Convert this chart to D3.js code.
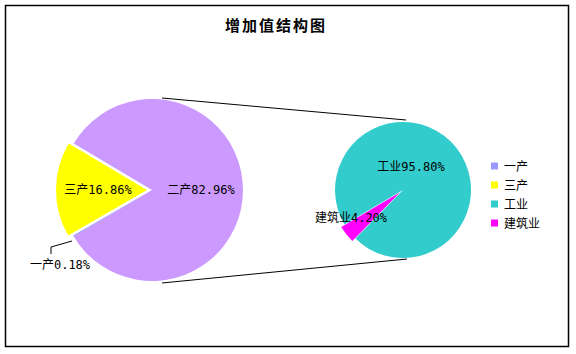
<!DOCTYPE html>
<html lang="en">
<head>
<meta charset="UTF-8">
<title>增加值结构图</title>
<script src="https://d3js.org/d3.v7.min.js"></script>
<style>
  body { margin: 0; background: #fff; }
  svg text { font-family: "Noto Sans CJK SC", "DejaVu Sans", sans-serif; }
  svg text.lbl { font-family: "DejaVu Sans Mono", "Noto Sans CJK SC", monospace; }
</style>
</head>
<body>
<svg id="svg" width="576" height="354"></svg>
<script>
// main pie (order as drawn clockwise)
const mainNames = ["二产", "一产", "三产"];
const mainValues = [82.96, 0.18, 16.86];
const mainColors = ["#CC99FF", "#9999FF", "#FFFF00"];
const mainExplode = [0, 0, 5];

// secondary pie: 二产 split
const subNames = ["工业", "建筑业"];
const subValues = [95.80, 4.20];
const subColors = ["#33CCCC", "#FF00FF"];
const subExplode = [0, 4];

const legendNames = ["一产", "三产", "工业", "建筑业"];
const legendColors = ["#9999FF", "#FFFF00", "#33CCCC", "#FF00FF"];

const svg = d3.select("#svg");
const rad = d => d * Math.PI / 180;

svg.append("rect")
    .attr("x", 5.5).attr("y", 5.5)
    .attr("width", 563).attr("height", 341)
    .attr("fill", "white").attr("stroke", "black").attr("stroke-width", 1.5);

svg.append("text")
    .attr("x", 276).attr("y", 31)
    .attr("text-anchor", "middle")
    .attr("font-size", 15).attr("font-weight", "bold")
    .attr("letter-spacing", 2)
    .text("增加值结构图");

const c1 = { x: 152, y: 190, r: 91 };
const c2 = { x: 403, y: 190, r: 68 };

// connector lines
svg.append("line").attr("x1", 162).attr("y1", 98).attr("x2", 406).attr("y2", 120)
    .attr("stroke", "black");
svg.append("line").attr("x1", 162).attr("y1", 283).attr("x2", 407).attr("y2", 259)
    .attr("stroke", "black");

function drawPie(cfg, values, colors, explode, start) {
    const arcs = d3.pie().sort(null)
        .startAngle(rad(start)).endAngle(rad(start + 360))(values);
    const arc = d3.arc().innerRadius(0).outerRadius(cfg.r);
    const g = svg.append("g").attr("transform", `translate(${cfg.x},${cfg.y})`);
    g.selectAll("path").data(arcs).join("path")
        .attr("d", arc)
        .attr("fill", (d, i) => colors[i])
        .attr("transform", (d, i) => {
            const a = (d.startAngle + d.endAngle) / 2;
            return `translate(${Math.sin(a) * explode[i]},${-Math.cos(a) * explode[i]})`;
        });
    return g;
}

drawPie(c1, mainValues, mainColors, mainExplode, -59.3);
drawPie(c2, subValues, subColors, subExplode, 239.5);

const fmt = v => v.toFixed(2) + "%";
function label(x, y, txt) {
    svg.append("text").attr("class", "lbl")
        .attr("x", x).attr("y", y).attr("text-anchor", "middle")
        .attr("font-size", 12).text(txt);
}

// labels main pie
label(201, 194, mainNames[0] + fmt(mainValues[0]));
label(98, 194, mainNames[2] + fmt(mainValues[2]));
svg.append("polyline").attr("points", "72,241 51,247 51,254")
    .attr("fill", "none").attr("stroke", "black");
label(60, 269, mainNames[1] + fmt(mainValues[1]));

// labels secondary pie
label(411, 171, subNames[0] + fmt(subValues[0]));
label(351, 222, subNames[1] + fmt(subValues[1]));

// legend
const lg = svg.append("g").attr("transform", "translate(491,166)");
const items = lg.selectAll("g").data(legendNames).join("g")
    .attr("transform", (d, i) => `translate(0,${i * 19})`);
items.append("rect").attr("x", 0).attr("y", -3.5).attr("width", 7).attr("height", 7)
    .attr("fill", (d, i) => legendColors[i]);
items.append("text").attr("x", 13).attr("y", 4.5).attr("font-size", 12).text(d => d);
</script>
</body>
</html>
